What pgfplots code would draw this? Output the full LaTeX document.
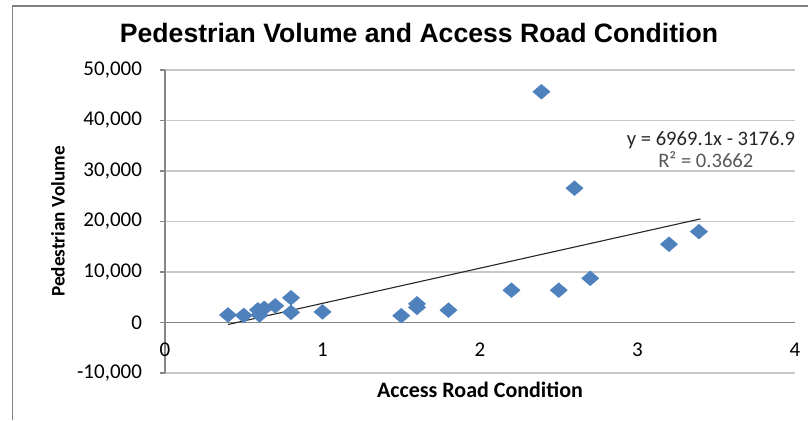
\documentclass[border=0pt]{standalone}
\usepackage{pgfplots}
\pgfplotsset{compat=1.18}
\usepackage{fontspec}
\setmainfont{Carlito}
\newfontfamily\titlefont{Liberation Sans}
\definecolor{xlblue}{HTML}{4F81BD}
\definecolor{gridgray}{HTML}{C8C8C8}
\definecolor{axisgray}{HTML}{868686}
\definecolor{bordergray}{HTML}{808080}
\begin{document}
\begin{tikzpicture}
\useasboundingbox (0,0) rectangle (404pt,210pt);
\fill[white] (0,0) rectangle (404pt,210pt);
\draw[bordergray, line width=0.9pt] (6.25pt,0pt) -- (6.25pt,207.6pt);
\draw[bordergray, line width=0.9pt] (5.8pt,207.2pt) -- (404pt,207.2pt);
\node[font={\titlefont\bfseries\fontsize{13.3}{15}\selectfont}] at (209.5pt,193.5pt) {Pedestrian Volume and Access Road Condition};
\begin{axis}[
  scale only axis,
  width=315pt, height=151.5pt,
  at={(82.5pt,23.5pt)}, anchor=south west,
  xmin=0, xmax=4, ymin=-10000, ymax=50000,
  xtick={0,1,2,3,4},
  ytick={-10000,0,10000,20000,30000,40000,50000},
  axis x line=middle, axis y line=left,
  hide obscured x ticks=false,
  axis line style={-, draw=axisgray, line width=0.6pt},
  ymajorgrids,
  grid style={draw=gridgray, line width=0.6pt},
  xtick style={draw=none},
  ytick style={draw=axisgray, line width=0.6pt},
  tick align=outside, major tick length=2.5pt,
  /pgf/number format/assume math mode=true,
  yticklabel style={/pgf/number format/1000 sep={,}, xshift=-5.5pt, font=\fontsize{10.5}{12}\selectfont},
  xticklabel style={yshift=-4pt, font=\fontsize{10.5}{12}\selectfont},
  scaled y ticks=false,
  xlabel={Access Road Condition},
  ylabel={Pedestrian Volume},
  xlabel style={at={(axis description cs:0.5,0)}, anchor=north, yshift=-1pt, font=\bfseries\fontsize{11}{13}\selectfont},
  ylabel style={at={(axis description cs:-0.17,0.5)}, anchor=center, font=\bfseries\fontsize{9.6}{11}\selectfont},
  clip=false,
]
\addplot[only marks, mark=diamond*, mark size=3.6pt, color=xlblue, mark options={xscale=1.55, fill=xlblue, draw=xlblue}] coordinates {
  (0.40,1500) (0.50,1400) (0.59,2500) (0.60,1500) (0.63,2800) (0.70,3300)
  (0.80,4900) (0.80,2000) (1.00,2100) (1.50,1350) (1.60,3700) (1.60,3000)
  (1.80,2450) (2.20,6400) (2.39,45700) (2.50,6400) (2.60,26600) (2.70,8750)
  (3.20,15500) (3.39,18000)
};
\addplot[black!85, line width=0.55pt] coordinates {(0.40,-389) (3.40,20518)};
\end{axis}
\node[font=\fontsize{10.3}{12}\selectfont, text=black!85] at (355.5pt,140pt) {y = 6969.1x - 3176.9};
\node[font=\fontsize{10.3}{12}\selectfont, text=black!65] at (352.9pt,130pt) {R² = 0.3662};
\end{tikzpicture}
\end{document}
